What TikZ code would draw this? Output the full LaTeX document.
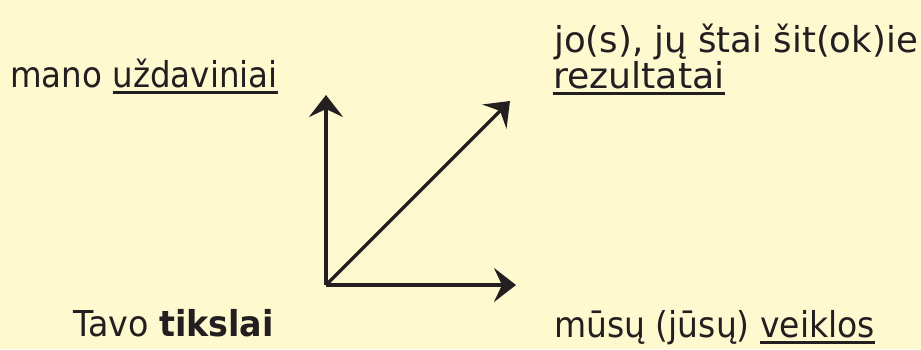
\documentclass[tikz,border=0pt]{standalone}
\usepackage{fontspec}
\setmainfont{DejaVu Sans}
\usetikzlibrary{arrows.meta}
\definecolor{bg}{RGB}{255,249,208}
\definecolor{ink}{RGB}{35,31,32}
\newcommand\myul[1]{\setbox0\hbox{#1}\rlap{\raisebox{-6.5pt}{\color{ink}\rule{\wd0}{2.8pt}}}\box0}
\tikzset{
  lbl/.style={anchor=base west, inner sep=0pt, text=ink, font=\fontsize{33}{38}\selectfont},
  vec/.style={line width=3.4pt, draw=ink, -{Stealth[length=22pt,width=34pt,inset=8pt]}}
}
\begin{document}
\begin{tikzpicture}[x=1pt,y=-1pt]
\fill[bg] (0,0) rectangle (921,349);
\useasboundingbox (0,0) rectangle (921,349);
\coordinate (o) at (326,285);
\coordinate (up) at (326,95);
\coordinate (rt) at (516,285);
\coordinate (dg) at (510,101);
\draw[vec] (o) -- (up);
\draw[vec] (o) -- (rt);
\draw[vec] (o) -- (dg);
\node[lbl] (a) at (10,87) {\scalebox{0.985}[1.08]{mano \myul{uždaviniai}}};
\node[lbl] (b) at (554,52) {\scalebox{1.077}[1.08]{jo(s), jų štai šit(ok)ie}};
\node[lbl] (c) at (553,88) {\scalebox{1.099}[1.08]{\myul{rezultatai}}};
\node[lbl] (d) at (73,336) {\scalebox{1.01}[1.08]{Tavo \textbf{tikslai}}};
\node[lbl] (e) at (554,337) {\scalebox{1}[1.08]{mūsų (jūsų) \myul{veiklos}}};
\end{tikzpicture}
\end{document}
